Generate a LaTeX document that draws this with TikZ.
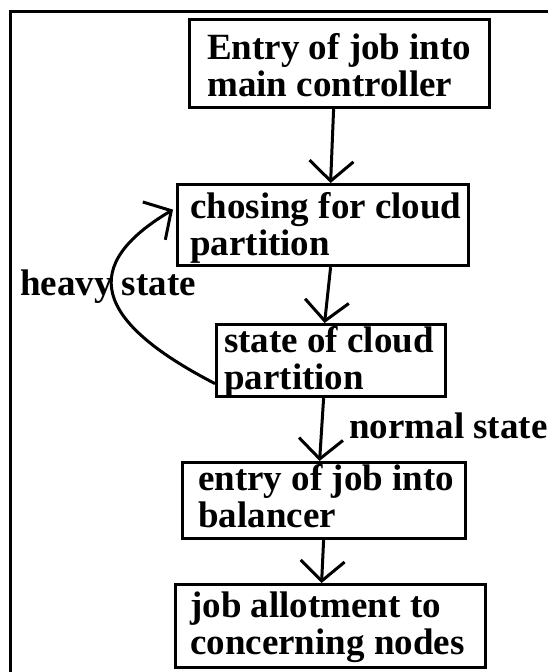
\documentclass[tikz,border=0pt]{standalone}
\usepackage{fontspec}
\setmainfont{Liberation Serif}
\usetikzlibrary{arrows.meta}

\tikzset{
    stagebox/.style={draw, line width=3.2pt, anchor=north west, inner sep=0pt},
    stagetext/.style={anchor=base west, inner sep=0pt, align=left,
        font=\fontsize{37}{37}\selectfont\bfseries},
    flow/.style={line width=3pt, -{Straight Barb[length=20pt, width=44pt]}}
}

\begin{document}
\begin{tikzpicture}[x=1pt, y=-1pt]
    \useasboundingbox (0,0) rectangle (547,672);
    \fill[white] (0,0) rectangle (547,672);
    \draw[line width=3pt] (10.5,690) -- (10.5,11.7) -- (560,11.7);

    \node[stagebox, minimum width=300pt, minimum height=88pt] (entry) at (188,18) {};
    \node[stagebox, minimum width=291pt, minimum height=81pt] (choose) at (176,183) {};
    \node[stagebox, minimum width=229pt, minimum height=72pt] (state) at (215,323) {};
    \node[stagebox, minimum width=283pt, minimum height=76pt] (balancer) at (181,461) {};
    \node[stagebox, minimum width=310pt, minimum height=83pt] (allot) at (174,583) {};

    % base anchor sits on the last line
    \node[stagetext] (entry-txt) at (207,96) {Entry of job into\\main controller};
    \node[stagetext] (choose-txt) at (190,255) {chosing for cloud\\partition};
    \node[stagetext] (state-txt) at (224,389) {state of cloud\\partition};
    \node[stagetext] (balancer-txt) at (198,527) {entry of job into\\balancer};
    \node[stagetext] (allot-txt) at (190,654) {job allotment to\\concerning nodes};

    \draw[flow] ([xshift=-6pt]entry.south) -- ([xshift=7.5pt]choose.north);
    \draw[flow] ([xshift=7.5pt]choose.south) -- ([xshift=-6.5pt]state.north);
    \draw[flow] ([xshift=-7.5pt]state.south) -- ([xshift=-4.5pt]balancer.north);
    \draw[flow] ([xshift=-0.5pt]balancer.south) -- ([xshift=-9pt]allot.north);

    \coordinate (back-in) at ([xshift=-3pt, yshift=15.5pt]choose.west);
    \draw[flow] ([yshift=-23pt]state.west) .. controls (92,320) and (80,265) .. (back-in);

    \node[stagetext] (heavy) at (20,295) {heavy state};
    \node[stagetext] (normal) at (349,438) {normal state};
\end{tikzpicture}
\end{document}
